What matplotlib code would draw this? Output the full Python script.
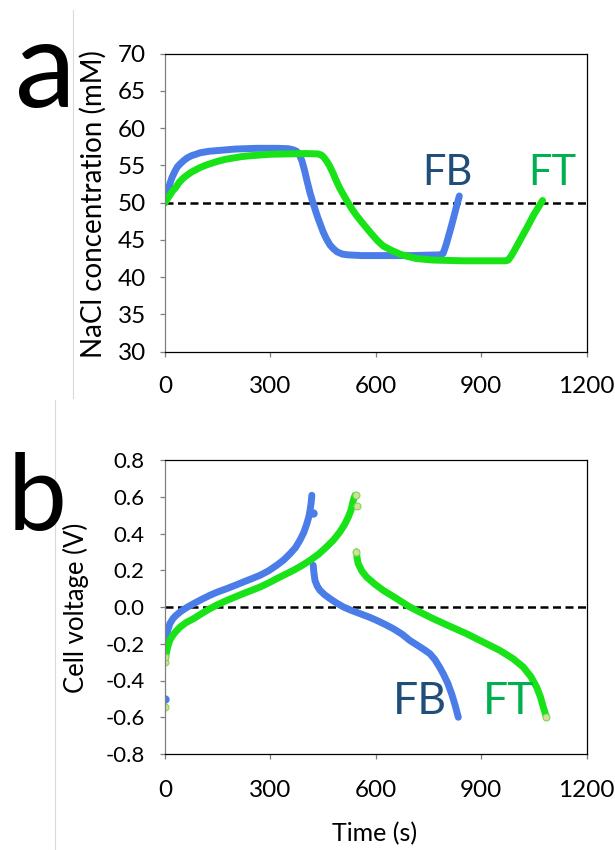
import matplotlib
matplotlib.use("Agg")
import matplotlib.pyplot as plt
from matplotlib.lines import Line2D

plt.rcParams['font.family'] = ['Lato', 'DejaVu Sans']

# ---- panel a: NaCl concentration vs time ----
fb_conc_t = [0, 5, 10, 15, 20, 28, 35, 43, 52, 63, 75, 88, 100, 125, 150, 200, 260, 320, 350,
             365, 375, 383, 390, 398, 405, 413, 420, 428, 435, 443, 450, 460, 470, 480, 490,
             505, 520, 560, 700, 785, 792, 800, 815, 830, 838]
fb_conc = [50.0, 51.0, 51.9, 52.7, 53.4, 54.2, 54.8, 55.2, 55.6, 56.0, 56.3, 56.5, 56.7, 56.9,
           57.0, 57.2, 57.3, 57.3, 57.25, 57.1, 56.9, 56.4, 55.6, 54.2, 52.8, 51.3, 50.2, 49.0,
           48.0, 47.0, 46.1, 45.1, 44.3, 43.8, 43.4, 43.1, 43.0, 42.9, 42.9, 43.0, 43.2, 44.3,
           46.8, 49.5, 50.9]

ft_conc_t = [0, 8, 15, 22, 30, 40, 52, 63, 75, 87, 99, 120, 146, 170, 194, 220, 242, 270, 300,
             350, 400, 435, 445, 452, 460, 469, 479, 488, 498, 510, 521, 533, 545, 560, 574,
             590, 605, 621, 645, 669, 690, 716, 740, 764, 850, 970, 977, 985, 995, 1010, 1030,
             1050, 1075]
ft_conc = [50.0, 50.6, 51.1, 51.6, 52.0, 52.7, 53.3, 53.7, 54.1, 54.4, 54.7, 55.1, 55.5, 55.8,
           56.0, 56.2, 56.3, 56.4, 56.5, 56.55, 56.6, 56.55, 56.4, 56.1, 55.6, 54.9, 53.9, 52.9,
           51.9, 50.9, 50.0, 49.1, 48.3, 47.4, 46.6, 45.7, 44.9, 44.2, 43.6, 43.1, 42.8, 42.5,
           42.4, 42.3, 42.2, 42.2, 42.3, 42.8, 43.6, 44.9, 46.6, 48.4, 50.3]

# ---- panel b: cell voltage vs time ----
fb_chg_t = [0, 4, 8, 14, 22, 30, 43, 60, 81, 105, 128, 150, 176, 200, 223, 247, 271, 295, 318,
            338, 356, 371, 384, 395, 404, 410, 413, 416, 418]
fb_chg_v = [-0.20, -0.16, -0.125, -0.09, -0.065, -0.048, -0.027, -0.005, 0.018, 0.042, 0.064,
            0.082, 0.10, 0.118, 0.136, 0.154, 0.173, 0.197, 0.227, 0.256, 0.29, 0.322, 0.363,
            0.405, 0.454, 0.495, 0.527, 0.565, 0.608]
fb_dis_t = [422, 424, 427, 433, 441, 455, 470, 488, 508, 530, 555, 580, 603, 627, 650, 675, 697,
            720, 740, 754, 768, 781, 792, 805, 816, 826, 835]
fb_dis_v = [0.227, 0.185, 0.145, 0.115, 0.091, 0.066, 0.045, 0.022, 0.0, -0.018, -0.036, -0.054,
            -0.073, -0.095, -0.118, -0.148, -0.182, -0.21, -0.235, -0.254, -0.285, -0.325,
            -0.363, -0.415, -0.472, -0.535, -0.60]

ft_chg_t = [0, 4, 8, 14, 22, 30, 43, 60, 81, 105, 128, 150, 176, 200, 223, 247, 271, 295, 318,
            342, 366, 390, 413, 437, 460, 480, 498, 511, 522, 530, 536, 541]
ft_chg_v = [-0.29, -0.25, -0.215, -0.18, -0.155, -0.135, -0.109, -0.085, -0.064, -0.035, -0.009,
            0.013, 0.036, 0.055, 0.073, 0.091, 0.109, 0.131, 0.154, 0.177, 0.20, 0.226, 0.254,
            0.287, 0.327, 0.365, 0.409, 0.448, 0.49, 0.53, 0.58, 0.608]
ft_dis_t = [545, 547, 550, 560, 574, 597, 621, 660, 697, 730, 764, 810, 858, 905, 953, 990, 1020,
            1042, 1058, 1069, 1077, 1086]
ft_dis_v = [0.30, 0.265, 0.236, 0.197, 0.163, 0.125, 0.091, 0.045, 0.0, -0.032, -0.064, -0.104,
            -0.145, -0.19, -0.236, -0.28, -0.327, -0.38, -0.436, -0.49, -0.545, -0.60]

# isolated points at the ends of the runs
fb_pts_t = [0, 420]
fb_pts_v = [-0.50, 0.51]
ft_pts_t = [0, 0, 0, 545, 547, 545, 1086]
ft_pts_v = [-0.545, -0.30, -0.27, 0.608, 0.55, 0.30, -0.60]

BLUE = '#4a7de8'
GREEN = '#17e317'
FB_TXT = '#1f4e79'
FT_TXT = '#00b050'

fig = plt.figure(figsize=(6.15, 8.5), dpi=100)
W, H = 615.0, 850.0


def style_axes(ax, ytick_size, xtick_size, ypad, xpad):
    for s in ['top', 'right', 'bottom']:
        ax.spines[s].set_color('black')
        ax.spines[s].set_linewidth(0.9)
    ax.spines['left'].set_color('#7f7f7f')
    ax.spines['left'].set_linewidth(0.9)
    ax.tick_params(axis='both', direction='out', length=3.5, width=0.9, color='#7f7f7f')
    ax.tick_params(axis='y', labelsize=ytick_size, pad=ypad)
    ax.tick_params(axis='x', labelsize=xtick_size, pad=xpad)


def curve(ax, tt, vv, color):
    ax.plot(tt, vv, color=color, lw=5, solid_capstyle='round', solid_joinstyle='round')


# panel a
ax1 = fig.add_axes([165 / W, 1 - 351.7 / H, 421.5 / W, 298 / H])
curve(ax1, fb_conc_t, fb_conc, BLUE)
curve(ax1, ft_conc_t, ft_conc, GREEN)
ax1.axhline(50, color='black', lw=1.8, dashes=(3.2, 1.8), zorder=1)
ax1.set_xlim(0, 1200)
ax1.set_ylim(30, 70)
ax1.set_xticks([0, 300, 600, 900, 1200])
ax1.set_yticks(range(30, 71, 5))
style_axes(ax1, 17.5, 17.5, 10, 14)
ax1.text(804, 52.4, 'FB', color=FB_TXT, fontsize=30, ha='center', va='baseline')
ax1.text(1102, 52.4, 'FT', color=FT_TXT, fontsize=30, ha='center', va='baseline')

# panel b
ax2 = fig.add_axes([165 / W, 1 - 754 / H, 421.5 / W, 294 / H])
curve(ax2, fb_chg_t, fb_chg_v, BLUE)
curve(ax2, fb_dis_t, fb_dis_v, BLUE)
curve(ax2, ft_chg_t, ft_chg_v, GREEN)
curve(ax2, ft_dis_t, ft_dis_v, GREEN)
ax2.plot(fb_pts_t, fb_pts_v, 'o', ms=5, color=BLUE, mec=BLUE)
ax2.plot(ft_pts_t, ft_pts_v, 'o', ms=5, color='#d8dca0', mec='#7ed957', mew=0.8)
ax2.axhline(0, color='black', lw=1.8, dashes=(3.2, 1.8), zorder=1)
ax2.set_xlim(0, 1200)
ax2.set_ylim(-0.8, 0.8)
ax2.set_xticks([0, 300, 600, 900, 1200])
ax2.set_yticks([-0.8, -0.6, -0.4, -0.2, 0.0, 0.2, 0.4, 0.6, 0.8])
ax2.set_yticklabels(['%.1f' % v for v in ax2.get_yticks()])
style_axes(ax2, 16, 17.5, 11, 15)
ax2.text(726, -0.581, 'FB', color=FB_TXT, fontsize=32, ha='center', va='baseline')
ax2.text(977, -0.581, 'FT', color=FT_TXT, fontsize=32, ha='center', va='baseline')

# axis titles
fig.text(93 / W, 1 - 204 / H, 'NaCl concentration (mM)', rotation=90, ha='center', va='center',
         fontsize=20)
fig.text(76 / W, 1 - 607.5 / H, 'Cell voltage (V)', rotation=90, ha='center', va='center',
         fontsize=18.5)
fig.text(375 / W, 1 - 834 / H, 'Time (s)', ha='center', va='center', fontsize=18)

# panel letters
fig.text(45 / W, 1 - 107 / H, 'a', ha='center', va='baseline', fontsize=88)
fig.text(37 / W, 1 - 530 / H, 'b', ha='center', va='baseline', fontsize=76)

# faint page-border lines
fig.add_artist(Line2D([73 / W, 73 / W], [1 - 10 / H, 1 - 398 / H], color='#d9d9d9', lw=0.8))
fig.add_artist(Line2D([55 / W, 55 / W], [1 - 400 / H, 0], color='#d9d9d9', lw=0.8))

fig.savefig('out.png', dpi=100)
